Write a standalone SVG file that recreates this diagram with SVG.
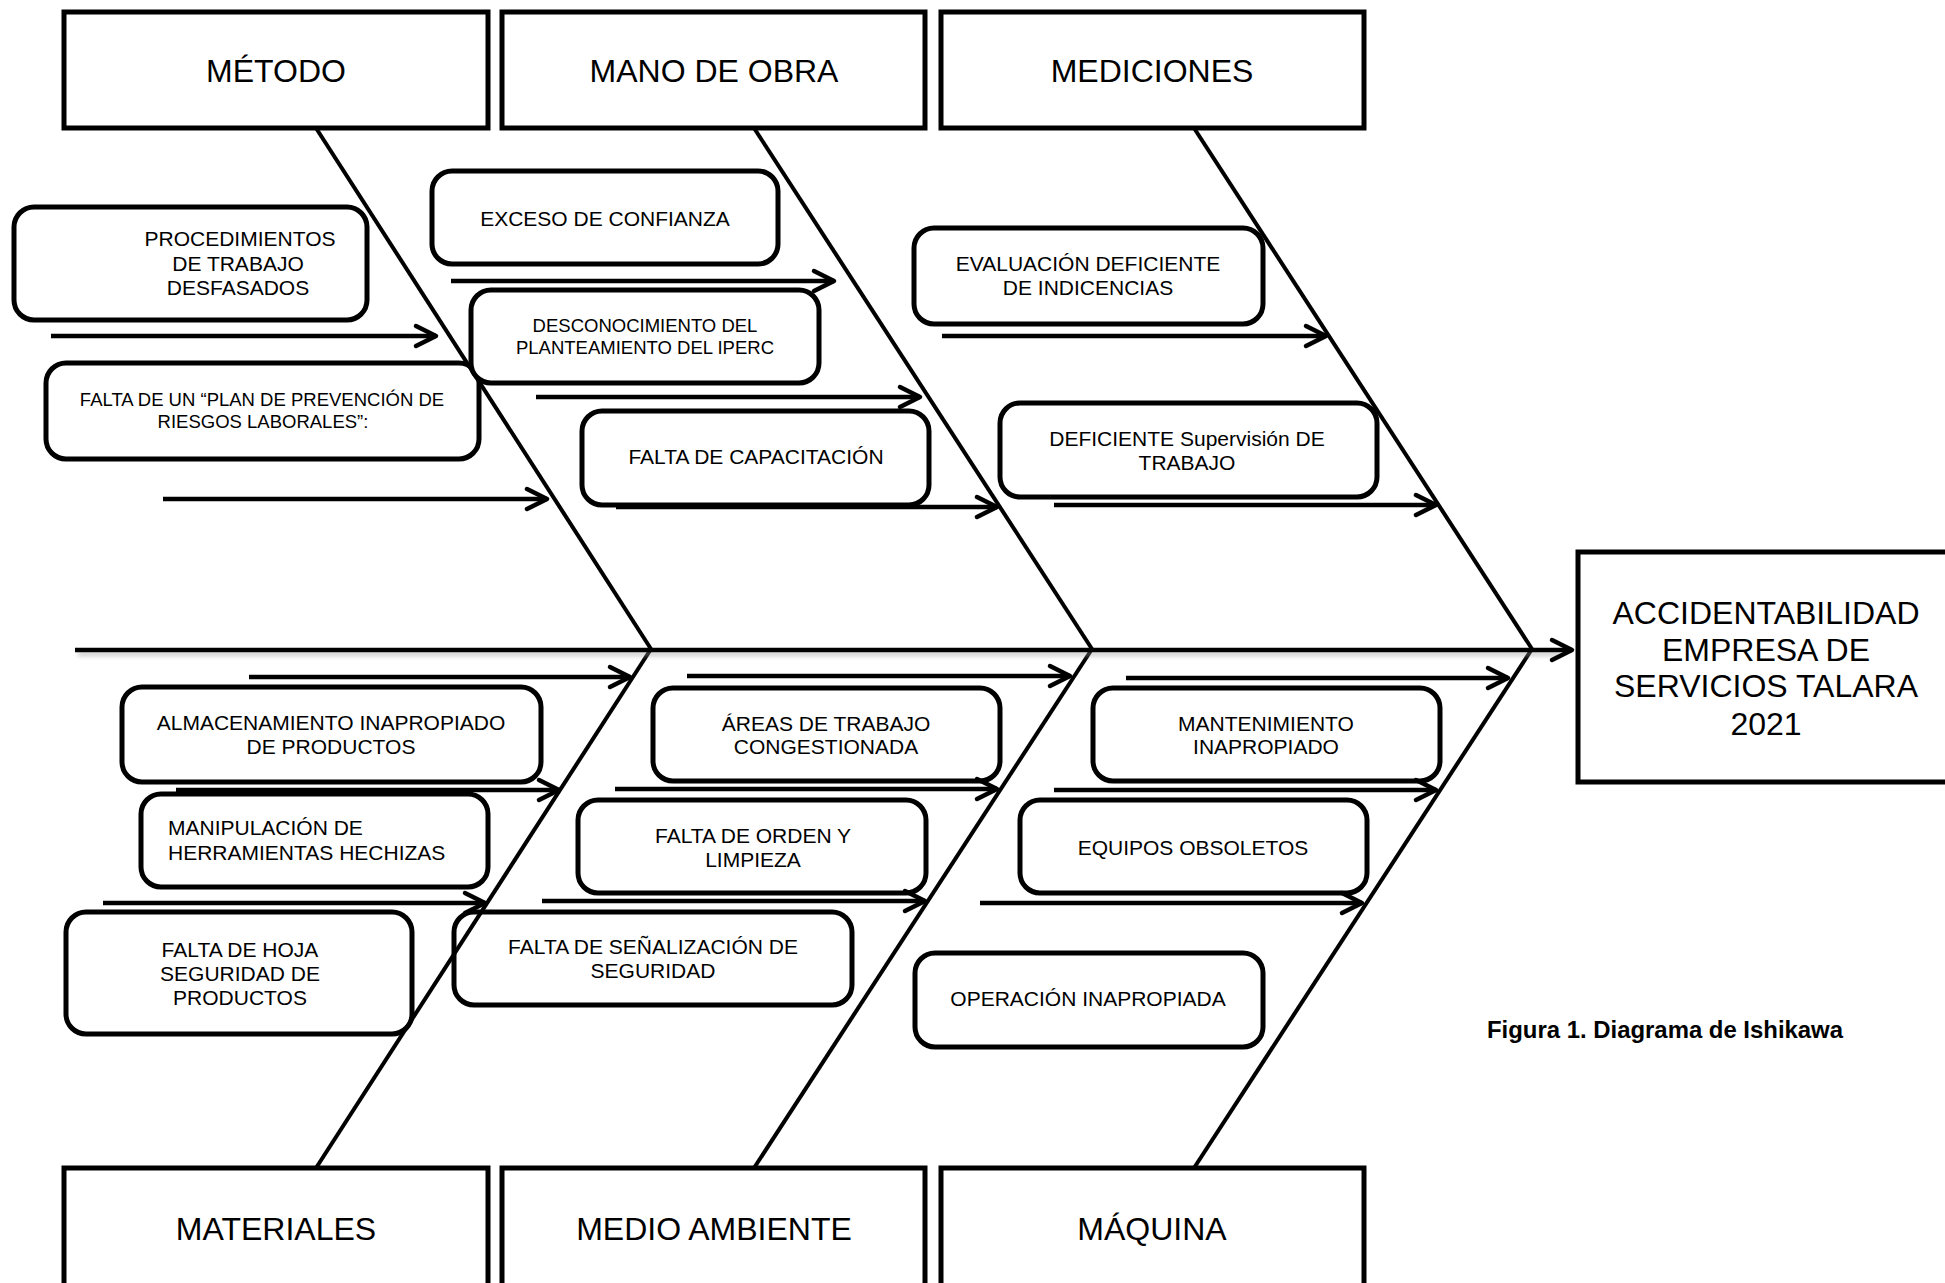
<svg xmlns="http://www.w3.org/2000/svg" width="1945" height="1283" viewBox="0 0 1945 1283">
<style>
.cat{fill:#fff;stroke:#000;stroke-width:5}
.cause{fill:#fff;stroke:#000;stroke-width:5}
.t32{font-family:"Liberation Sans",Arial,sans-serif;font-size:32px;fill:#000;text-anchor:middle}
.t21{font-family:"Liberation Sans",Arial,sans-serif;font-size:21px;fill:#000;text-anchor:middle}
.t21s{font-family:"Liberation Sans",Arial,sans-serif;font-size:21px;fill:#000;text-anchor:start}
.t18{font-family:"Liberation Sans",Arial,sans-serif;font-size:18.5px;fill:#000;text-anchor:middle}
.bone{stroke:#000;stroke-width:4;fill:none}
.arr{stroke:#000;stroke-width:4.5;fill:none;marker-end:url(#head)}
.cap{font-family:"Liberation Sans",Arial,sans-serif;font-size:24px;font-weight:bold;fill:#000}
</style>
<defs>
<marker id="head" markerUnits="userSpaceOnUse" markerWidth="40" markerHeight="40" viewBox="-30 -20 40 40" refX="0" refY="0" orient="auto">
<path d="M-20,-10 L0,0 L-20,10" fill="none" stroke="#000" stroke-width="4.5" stroke-linecap="round" stroke-linejoin="round"/>
</marker>
<filter id="sh" filterUnits="userSpaceOnUse" x="0" y="600" width="1945" height="100">
<feGaussianBlur stdDeviation="2"/>
</filter>
</defs>
<rect width="1945" height="1283" fill="#fff"/>

<g id="cat-metodo"><rect class="cat" x="64" y="12" width="424" height="116"/><text class="t32" x="276" y="82">MÉTODO</text></g>
<g id="cat-mano-de-obra"><rect class="cat" x="502" y="12" width="423" height="116"/><text class="t32" x="714" y="82">MANO DE OBRA</text></g>
<g id="cat-mediciones"><rect class="cat" x="941" y="12" width="423" height="116"/><text class="t32" x="1152" y="82">MEDICIONES</text></g>
<g id="cat-materiales"><rect class="cat" x="64" y="1168" width="424" height="140"/><text class="t32" x="276" y="1240">MATERIALES</text></g>
<g id="cat-medio-ambiente"><rect class="cat" x="502" y="1168" width="423" height="140"/><text class="t32" x="714" y="1240">MEDIO AMBIENTE</text></g>
<g id="cat-maquina"><rect class="cat" x="941" y="1168" width="423" height="140"/><text class="t32" x="1152" y="1240">MÁQUINA</text></g>

<g id="effect"><rect class="cat" x="1578" y="552" width="400" height="230"/>
<text class="t32" x="1766" y="624">ACCIDENTABILIDAD</text>
<text class="t32" x="1766" y="661">EMPRESA DE</text>
<text class="t32" x="1766" y="697">SERVICIOS TALARA</text>
<text class="t32" x="1766" y="735">2021</text></g>

<g id="c-procedimientos"><rect class="cause" x="14" y="207" width="353" height="113" rx="20"/>
<text class="t21" x="240" y="246">PROCEDIMIENTOS</text><text class="t21" x="238" y="270.5">DE TRABAJO</text><text class="t21" x="238" y="295">DESFASADOS</text></g>
<g id="c-falta-plan"><rect class="cause" x="46" y="363" width="433" height="96" rx="20"/>
<text class="t18" x="262" y="405.5">FALTA DE UN “PLAN DE PREVENCIÓN DE</text><text class="t18" x="263" y="427.5">RIESGOS LABORALES”:</text></g>
<g id="c-exceso"><rect class="cause" x="432" y="171" width="346" height="93" rx="20"/>
<text class="t21" x="605" y="225.5">EXCESO DE CONFIANZA</text></g>
<g id="c-desconocimiento"><rect class="cause" x="471" y="290" width="348" height="93" rx="20"/>
<text class="t18" x="645" y="331.5">DESCONOCIMIENTO DEL</text><text class="t18" x="645" y="353.5">PLANTEAMIENTO DEL IPERC</text></g>
<g id="c-capacitacion"><rect class="cause" x="582" y="411" width="347" height="94" rx="20"/>
<text class="t21" x="756" y="463.5">FALTA DE CAPACITACIÓN</text></g>
<g id="c-evaluacion"><rect class="cause" x="914" y="228" width="349" height="96" rx="20"/>
<text class="t21" x="1088" y="270.5">EVALUACIÓN DEFICIENTE</text><text class="t21" x="1088" y="294.5">DE INDICENCIAS</text></g>
<g id="c-supervision"><rect class="cause" x="1000" y="403" width="377" height="94" rx="20"/>
<text class="t21" x="1187" y="445.5">DEFICIENTE Supervisión DE</text><text class="t21" x="1187" y="469.5">TRABAJO</text></g>

<g id="c-almacenamiento"><rect class="cause" x="122" y="687" width="419" height="95" rx="20"/>
<text class="t21" x="331" y="729.5">ALMACENAMIENTO INAPROPIADO</text><text class="t21" x="331" y="753.5">DE PRODUCTOS</text></g>
<g id="c-manipulacion"><rect class="cause" x="141" y="794" width="347" height="93" rx="20"/>
<text class="t21s" x="168" y="835">MANIPULACIÓN DE</text><text class="t21s" x="168" y="859.5">HERRAMIENTAS HECHIZAS</text></g>
<g id="c-hoja"><rect class="cause" x="66" y="912" width="346" height="122" rx="20"/>
<text class="t21" x="240" y="956.5">FALTA DE HOJA</text><text class="t21" x="240" y="981">SEGURIDAD DE</text><text class="t21" x="240" y="1004.5">PRODUCTOS</text></g>
<g id="c-areas"><rect class="cause" x="653" y="688" width="347" height="93" rx="20"/>
<text class="t21" x="826" y="730.5">ÁREAS DE TRABAJO</text><text class="t21" x="826" y="753.5">CONGESTIONADA</text></g>
<g id="c-orden"><rect class="cause" x="578" y="800" width="348" height="93" rx="20"/>
<text class="t21" x="753" y="842.5">FALTA DE ORDEN Y</text><text class="t21" x="753" y="866.5">LIMPIEZA</text></g>
<g id="c-senalizacion"><rect class="cause" x="454" y="912" width="398" height="93" rx="20"/>
<text class="t21" x="653" y="953.5">FALTA DE SEÑALIZACIÓN DE</text><text class="t21" x="653" y="977.5">SEGURIDAD</text></g>
<g id="c-mantenimiento"><rect class="cause" x="1093" y="688" width="347" height="93" rx="20"/>
<text class="t21" x="1266" y="730.5">MANTENIMIENTO</text><text class="t21" x="1266" y="753.5">INAPROPIADO</text></g>
<g id="c-equipos"><rect class="cause" x="1020" y="800" width="347" height="93" rx="20"/>
<text class="t21" x="1193" y="855">EQUIPOS OBSOLETOS</text></g>
<g id="c-operacion"><rect class="cause" x="915" y="953" width="348" height="94" rx="20"/>
<text class="t21" x="1088" y="1005.5">OPERACIÓN INAPROPIADA</text></g>

<g id="connectors">
<line class="bone" x1="316" y1="128" x2="651" y2="649"/>
<line class="bone" x1="754" y1="128" x2="1092" y2="649"/>
<line class="bone" x1="1194" y1="128" x2="1532" y2="649"/>
<line class="bone" x1="651" y1="649" x2="316" y2="1168"/>
<line class="bone" x1="1092" y1="649" x2="754" y2="1168"/>
<line class="bone" x1="1532" y1="649" x2="1194" y2="1168"/>
<line x1="78" y1="654" x2="1560" y2="654" stroke="#999" stroke-width="4.5" opacity="0.5" filter="url(#sh)"/>
<line class="arr" x1="75" y1="650" x2="1572" y2="650"/>
<line class="arr" x1="51" y1="336" x2="436" y2="336"/>
<line class="arr" x1="163" y1="499" x2="547" y2="499"/>
<line class="arr" x1="451" y1="281" x2="834" y2="281"/>
<line class="arr" x1="536" y1="397" x2="920" y2="397"/>
<line class="arr" x1="616" y1="507" x2="997" y2="507"/>
<line class="arr" x1="942" y1="336" x2="1326" y2="336"/>
<line class="arr" x1="1054" y1="505" x2="1436" y2="505"/>
<line class="arr" x1="249" y1="677" x2="630" y2="677"/>
<line class="arr" x1="176" y1="790" x2="559" y2="790"/>
<line class="arr" x1="103" y1="903" x2="485" y2="903"/>
<line class="arr" x1="687" y1="676" x2="1070" y2="676"/>
<line class="arr" x1="615" y1="789" x2="997" y2="789"/>
<line class="arr" x1="542" y1="901" x2="925" y2="901"/>
<line class="arr" x1="1126" y1="678" x2="1508" y2="678"/>
<line class="arr" x1="1054" y1="790" x2="1436" y2="790"/>
<line class="arr" x1="980" y1="903" x2="1362" y2="903"/>
</g>

<text class="cap" x="1487" y="1038" textLength="356" lengthAdjust="spacingAndGlyphs">Figura 1. Diagrama de Ishikawa</text>
</svg>
